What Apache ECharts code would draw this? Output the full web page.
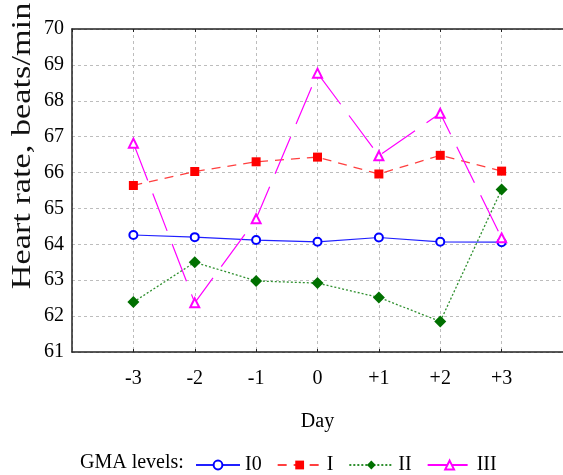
<!DOCTYPE html>
<html>
<head>
<meta charset="utf-8">
<script src="https://cdn.jsdelivr.net/npm/echarts@6/dist/echarts.min.js"></script>
<style>
html,body{margin:0;padding:0;background:#fff;}
#chart{width:563px;height:475px;}
</style>
</head>
<body>
<div id="chart"></div>
<script>
var days = [-3, -2, -1, 0, 1, 2, 3];
var seriesNames = ['I0', 'I', 'II', 'III'];
var valuesI0 = [64.26, 64.20, 64.12, 64.07, 64.19, 64.07, 64.06];
var valuesI = [65.64, 66.03, 66.30, 66.43, 65.96, 66.48, 66.04];
var valuesII = [62.39, 63.50, 62.98, 62.92, 62.52, 61.85, 65.53];
var valuesIII = [66.82, 62.37, 64.71, 68.77, 66.47, 67.65, 64.18];
var yTitle = 'Heart rate, beats/min';
var xTitle = 'Day';
var legendLead = 'GMA levels:';

function pairs(vals) { return days.map(function (d, i) { return [d, vals[i]]; }); }

var FONT = '"Liberation Serif", "Times New Roman", serif';
var chart = echarts.init(document.getElementById('chart'), null, { renderer: 'canvas' });

var option = {
  backgroundColor: '#ffffff',
  animation: false,
  textStyle: { fontFamily: FONT },
  grid: { left: 72, top: 29, width: 492, height: 323, containLabel: false },
  xAxis: [{
    type: 'value', min: -4, max: 4, interval: 1,
    name: xTitle, nameLocation: 'middle', nameGap: 60,
    nameTextStyle: { fontFamily: FONT, fontSize: 20, color: '#000' },
    axisLine: { show: true, onZero: false, lineStyle: { color: '#222', width: 1.5 } },
    axisTick: { show: true, inside: true, length: 3, lineStyle: { color: '#222' } },
    axisLabel: {
      fontFamily: FONT, fontSize: 20, color: '#000', margin: 17,
      showMinLabel: false, showMaxLabel: false,
      formatter: function (v) { if (v <= -4 || v >= 4) return ''; return v > 0 ? '+' + v : '' + v; }
    },
    splitLine: { show: true, lineStyle: { color: '#bdbdbd', type: [3, 3], width: 1 } }
  }, {
    type: 'value', min: -4, max: 4, interval: 1, position: 'top',
    axisLine: { show: true, onZero: false, lineStyle: { color: '#222', width: 1.5 } },
    axisTick: { show: true, inside: true, length: 3, lineStyle: { color: '#222' } },
    axisLabel: { show: false }, splitLine: { show: false }
  }],
  yAxis: {
    type: 'value', min: 61, max: 70, interval: 1,
    axisLine: { show: true, onZero: false, lineStyle: { color: '#222', width: 1.5 } },
    axisTick: { show: false },
    axisLabel: { fontFamily: FONT, fontSize: 20, color: '#000', margin: 8 },
    splitLine: { show: true, lineStyle: { color: '#bdbdbd', type: [3, 3], width: 1 } }
  },
  legend: {
    left: 190, top: 450, itemWidth: 44, itemHeight: 11, itemGap: 15,
    textStyle: { fontFamily: FONT, fontSize: 20, color: '#000' },
    data: seriesNames
  },
  graphic: [
    { type: 'text', left: 80, top: 453, style: { text: legendLead, font: '20px ' + FONT, fill: '#000' } },
    { type: 'text', x: 23, y: 146, rotation: Math.PI / 2, scaleX: 1.27,
      style: { text: yTitle, font: '27px ' + FONT, fill: '#111', align: 'center', verticalAlign: 'middle' } }
  ],
  series: [
    { name: 'I0', type: 'line', data: pairs(valuesI0), symbol: 'emptyCircle', symbolSize: 8,
      itemStyle: { color: '#0000ff', borderWidth: 1.2 }, lineStyle: { color: '#2020ff', width: 1.2 } },
    { name: 'I', type: 'line', data: pairs(valuesI), symbol: 'rect', symbolSize: 9,
      itemStyle: { color: '#ff0000' }, lineStyle: { color: '#ff4040', width: 1.3, type: [9, 7] } },
    { name: 'II', type: 'line', data: pairs(valuesII), symbol: 'diamond', symbolSize: 12,
      itemStyle: { color: '#007000' }, lineStyle: { color: '#309030', width: 1.3, type: [2, 2] } },
    { name: 'III', type: 'line', data: pairs(valuesIII), symbol: 'emptyTriangle', symbolSize: 9,
      itemStyle: { color: '#ff00ff', borderWidth: 1.3 }, lineStyle: { color: '#ff00ff', width: 1.2, type: [40, 14] } }
  ]
};
chart.setOption(option);
</script>
</body>
</html>
